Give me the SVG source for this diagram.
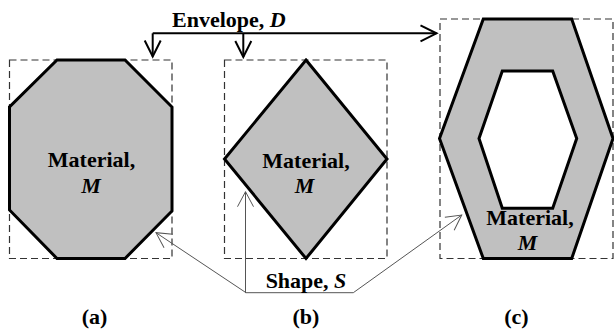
<svg xmlns="http://www.w3.org/2000/svg" width="614" height="330" viewBox="0 0 614 330">
<defs>
<style>
.env{fill:none;stroke:#333;stroke-width:1.2;stroke-dasharray:7,4}
.shape{fill:#c0c0c0;stroke:#000;stroke-width:3;stroke-linejoin:miter}
.hole{fill:#fff;stroke:#000;stroke-width:3}
.t{font-family:"Liberation Serif","Times New Roman",serif;font-weight:bold;font-size:22px;fill:#000}
.i{font-style:italic}
.dconn{fill:none;stroke:#000;stroke-width:2}
.sconn{fill:none;stroke:#555;stroke-width:1}
</style>
<marker id="ah" markerUnits="userSpaceOnUse" viewBox="-17 -9 19 18" refX="0" refY="0" markerWidth="19" markerHeight="18" orient="auto" overflow="visible">
<path d="M-16,-8 L0,0 L-16,8" fill="none" stroke="#000" stroke-width="2"/>
</marker>
<marker id="as" markerUnits="userSpaceOnUse" viewBox="-17 -9 19 18" refX="0" refY="0" markerWidth="19" markerHeight="18" orient="auto" overflow="visible">
<path d="M-15,-8 L0,0 L-15,8" fill="none" stroke="#555" stroke-width="1"/>
</marker>
</defs>
<rect width="614" height="330" fill="#fff"/>

<g id="node-a">
<rect class="env" x="9.5" y="60" width="162.5" height="198.5"/>
<polygon class="shape" points="57,60 125,60 172,107 172,211 125,258.5 57,258.5 9.5,210 9.5,107"/>
<text class="t" text-anchor="middle"><tspan x="91.5" y="166.5">Material,</tspan><tspan class="i" x="91" y="193">M</tspan></text>
</g>

<g id="node-b">
<rect class="env" x="224.5" y="60" width="162.5" height="198.5"/>
<polygon class="shape" points="306,60 387,159 306,258.5 224.5,159"/>
<text class="t" text-anchor="middle"><tspan x="306" y="168">Material,</tspan><tspan class="i" x="304.5" y="193">M</tspan></text>
</g>

<g id="node-c">
<rect class="env" x="440" y="19" width="173" height="239.5"/>
<polygon class="shape" points="483.3,19 571.7,19 613,138.5 571.7,258.5 483.3,258.5 439.5,138.5"/>
<polygon class="hole" points="502.3,71 552.7,71 576.7,138.5 552.7,208.3 502.3,208.3 479,138.5"/>
<text class="t" text-anchor="middle"><tspan x="530" y="224.5">Material,</tspan><tspan class="i" x="527.5" y="250">M</tspan></text>
</g>

<g id="connectors">
<path class="dconn" d="M152.7,33.3 L436.5,33.3" marker-end="url(#ah)"/>
<path class="dconn" d="M152.7,33.3 L152.7,56.5" marker-end="url(#ah)"/>
<path class="dconn" d="M243.3,33.3 L243.3,57" marker-end="url(#ah)"/>
<path class="sconn" d="M246,292.7 L156,232.7" marker-end="url(#as)"/>
<path class="sconn" stroke="#888" d="M245.5,292.7 L245.5,191.7" marker-end="url(#as)"/>
<path class="sconn" d="M245.5,292.7 L353.3,292.7 L461.7,215" marker-end="url(#as)"/>
</g>

<g id="labels">
<text class="t" x="172" y="27.3">Envelope, <tspan class="i">D</tspan></text>
<text class="t" x="306" y="288.3" text-anchor="middle">Shape, <tspan class="i">S</tspan></text>
<text class="t" x="94.5" y="324" text-anchor="middle">(a)</text>
<text class="t" x="306" y="324" text-anchor="middle">(b)</text>
<text class="t" x="516.5" y="324" text-anchor="middle">(c)</text>
</g>
</svg>
